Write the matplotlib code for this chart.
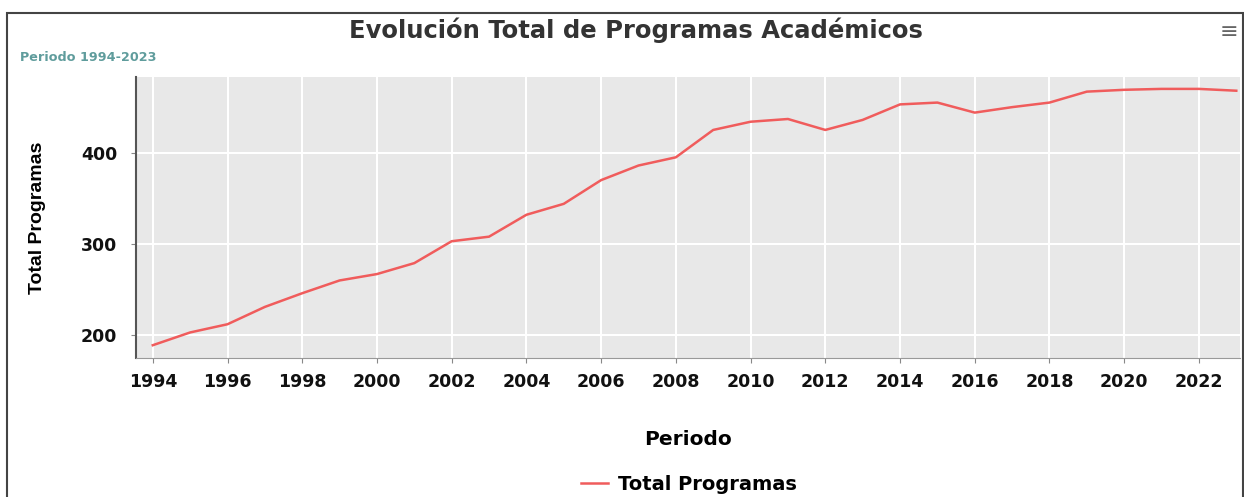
import matplotlib
matplotlib.use("Agg")
import matplotlib.pyplot as plt
from matplotlib.patches import Rectangle

# data
years = list(range(1994, 2024))
total_programas = [189, 203, 212, 231, 246, 260, 267, 279, 303, 308,
                   332, 344, 370, 386, 395, 425, 434, 437, 425, 436,
                   453, 455, 444, 450, 455, 467, 469, 470, 470, 468]
x_ticks = list(range(1994, 2023, 2))
y_ticks = [200, 300, 400]

plt.rcParams['font.family'] = ['DejaVu Sans']

fig = plt.figure(figsize=(12.44, 4.97), dpi=100)
ax = fig.add_axes([0.1093, 0.2797, 0.8875, 0.5653])

ax.set_facecolor('#e8e8e8')
ax.grid(True, color='white', linewidth=1.5)
ax.set_axisbelow(True)

ax.plot(years, total_programas, color='#f05c5c', linewidth=1.8, label='Total Programas')

ax.set_xlim(1993.55, 2023.1)
ax.set_ylim(175, 483)
ax.set_xticks(x_ticks)
ax.set_yticks(y_ticks)
ax.tick_params(axis='both', labelsize=12.5, colors='#888888', length=3.6)
ax.tick_params(axis='x', pad=7)
ax.tick_params(axis='y', pad=10)
for lbl in ax.get_xticklabels() + ax.get_yticklabels():
    lbl.set_fontweight('bold')
    lbl.set_color('#111111')

for side in ['top', 'right']:
    ax.spines[side].set_visible(False)
ax.spines['left'].set_color('#555555')
ax.spines['left'].set_linewidth(1.5)
ax.spines['bottom'].set_color('#999999')

ax.set_ylabel('Total Programas', fontsize=14, fontweight='bold', labelpad=25,
              family='Liberation Sans')
ax.set_xlabel('Periodo', fontsize=14.5, fontweight='bold', labelpad=28)

fig.text(0.511, 0.94, 'Evolución Total de Programas Académicos', ha='center', va='center',
         fontsize=17.5, fontweight='bold', color='#333333')
fig.text(0.016, 0.885, 'Periodo 1994-2023', ha='left', va='center',
         fontsize=9.2, fontweight='bold', color='#5f9c9c')
fig.text(0.988, 0.935, '≡', ha='center', va='center', fontsize=16, color='#666666')

leg = fig.legend(loc='center', bbox_to_anchor=(0.554, 0.025), frameon=False,
                 prop={'weight': 'bold', 'size': 14}, handlelength=1.4,
                 handletextpad=0.5)

# outer frame
fig.patches.append(Rectangle((7 / 1244, -0.01), 1236 / 1244, 1 - 13 / 497 + 0.01,
                             transform=fig.transFigure, fill=False,
                             edgecolor='#444444', linewidth=1.5))

fig.savefig('out.png', dpi=100)
